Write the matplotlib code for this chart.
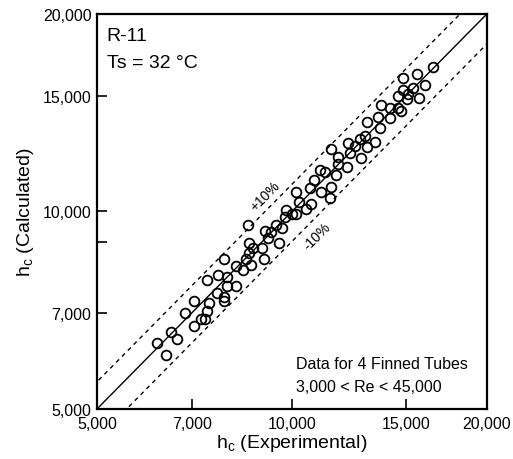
import matplotlib

matplotlib.use("Agg")
import matplotlib.pyplot as plt
import numpy as np
from matplotlib.ticker import FixedLocator, NullLocator, FixedFormatter

plt.rcParams["font.family"] = ["Liberation Sans", "DejaVu Sans"]
plt.rcParams["mathtext.default"] = "regular"

# experimental vs calculated condensation coefficients
h_exp = [
    16500, 14850, 15600, 16050, 15400, 14850, 14600, 15050, 15100, 15700,
    14750, 14150, 13750, 14150, 13600, 13050, 13700, 14600, 12950, 12750,
    13450, 12200, 12500, 13050, 11500, 12300, 12800, 11800, 11800, 12150,
    11050, 11250, 11700, 10800, 10650, 11500, 11100, 10150, 11450, 10250,
    10500, 9800, 10000, 10150, 9750, 8550, 9450, 9650, 9100, 9300,
    9200, 9550, 8600, 8700, 9000, 8600, 8500, 8650, 9050, 7850,
    8200, 8400, 7700, 7950, 7400, 7950, 8200, 7650, 7850, 7850,
    7450, 7050, 7400, 6850, 7250, 7350, 7050, 6500, 6650, 6200,
    6400, 10700,
]
h_calc = [
    16600, 15950, 16200, 15600, 15450, 15300, 15000, 14850, 15100, 14900,
    14250, 14400, 14550, 13900, 13950, 13700, 13400, 14400, 13050, 12900,
    12750, 12700, 12600, 12550, 12450, 12300, 12050, 12100, 11800, 11700,
    11550, 11500, 11350, 11150, 10850, 10900, 10700, 10700, 10500, 10350,
    10100, 10050, 9900, 9900, 9800, 9550, 9550, 9450, 9350, 9300,
    9100, 8950, 8950, 8800, 8800, 8650, 8450, 8300, 8450, 8450,
    8250, 8150, 8000, 7950, 7850, 7700, 7700, 7500, 7400, 7300,
    7250, 7300, 7050, 7000, 6850, 6850, 6700, 6550, 6400, 6300,
    6050, 10250,
]

axis_min, axis_max = 5000, 20000
tick_values = [5000, 7000, 10000, 15000, 20000]
tick_labels = ["5,000", "7,000", "10,000", "15,000", "20,000"]
band = 0.10


def main():
    fig = plt.figure(figsize=(5.13, 4.6), dpi=100)
    ax = fig.add_axes([0.189, 0.1087, 0.760, 0.8587])

    ax.set_xscale("log")
    ax.set_yscale("log")
    ax.set_xlim(axis_min, axis_max)
    ax.set_ylim(axis_min, axis_max)

    line = np.array([axis_min * 0.8, axis_max * 1.2])
    ax.plot(line, line, color="black", lw=1.0)
    ax.plot(line, line * (1 + band), color="black", lw=1.0, ls=(0, (3, 3)))
    ax.plot(line, line * (1 - band), color="black", lw=1.0, ls=(0, (3, 3)))

    ax.plot(h_exp, h_calc, "o", mfc="none", mec="black", ms=7, mew=1.3)

    ax.text(9085, 10560, "+10%", rotation=45, fontsize=10,
            ha="center", va="center", rotation_mode="anchor")
    ax.text(10930, 9175, "-10%", rotation=45, fontsize=10,
            ha="center", va="center", rotation_mode="anchor")

    ax.text(0.025, 0.935, "R-11", transform=ax.transAxes, fontsize=14)
    ax.text(0.025, 0.865, "Ts = 32 °C", transform=ax.transAxes, fontsize=14)
    ax.text(0.51, 0.105, "Data for 4 Finned Tubes", transform=ax.transAxes,
            fontsize=11.5)
    ax.text(0.51, 0.045, "3,000 < Re < 45,000", transform=ax.transAxes,
            fontsize=11.5)

    for axis in (ax.xaxis, ax.yaxis):
        axis.set_major_locator(FixedLocator(tick_values))
        axis.set_major_formatter(FixedFormatter(tick_labels))
        axis.set_minor_locator(NullLocator())
    ax.yaxis.set_minor_locator(FixedLocator([9000]))

    ax.tick_params(which="both", direction="in", length=7, width=1.2,
                   labelsize=11.5, top=False, right=False)
    ax.tick_params(axis="x", pad=5)
    ax.tick_params(axis="y", pad=4)

    for side in ax.spines.values():
        side.set_linewidth(1.6)

    ax.set_xlabel("h$_c$ (Experimental)", fontsize=14, labelpad=1)
    ax.set_ylabel("h$_c$ (Calculated)", fontsize=14, labelpad=5)

    fig.savefig("out.png", dpi=100)


if __name__ == "__main__":
    main()
